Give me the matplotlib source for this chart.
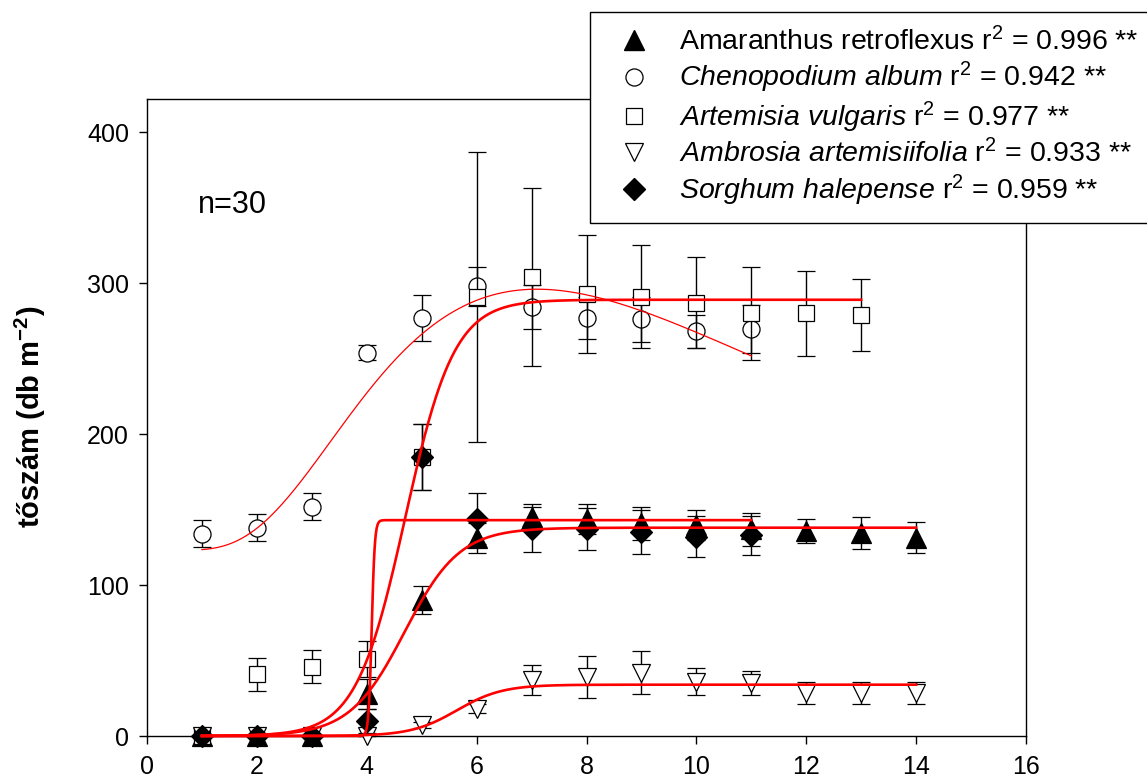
import numpy as np
import matplotlib
matplotlib.use("Agg")
import matplotlib.pyplot as plt
from matplotlib.lines import Line2D

plt.rcParams['font.family'] = ['Liberation Sans', 'DejaVu Sans']
plt.rcParams['mathtext.fontset'] = 'custom'
plt.rcParams['mathtext.rm'] = 'Liberation Sans'
plt.rcParams['mathtext.it'] = 'Liberation Sans:italic'
plt.rcParams['mathtext.bf'] = 'Liberation Sans:bold'

# ---------------- data ----------------
amaranthus_x = [1, 2, 3, 4, 5, 6, 7, 8, 9, 10, 11, 12, 13, 14]
amaranthus_y = [0, 0, 0, 28, 90, 131, 145, 144, 141, 140, 137, 136, 134.5, 131.5]
amaranthus_err = [0, 0, 0, 10, 9.5, 10, 9, 10, 11, 10, 11, 8, 10.5, 10.5]

chenopodium_x = [1, 2, 3, 4, 5, 6, 7, 8, 9, 10, 11]
chenopodium_y = [134, 138, 152, 254, 277, 298, 284, 277, 276, 268, 269.5]
chenopodium_err = [9, 9, 9, 5, 15, 13, 14.5, 14, 15, 11, 16]

artemisia_x = [1, 2, 3, 4, 5, 6, 7, 8, 9, 10, 11, 12, 13]
artemisia_y = [0, 41, 46, 51, 185, 291, 304, 293, 291, 287, 280, 280, 279]
artemisia_err = [0, 11, 11, 12, 22, 96, 59, 39, 34, 30, 31, 28, 24]

ambrosia_x = [1, 2, 3, 4, 5, 6, 7, 8, 9, 10, 11, 12, 13, 14]
ambrosia_y = [0, 0, 0, 0, 7, 18, 37, 39, 42, 36, 35, 28.5, 28.5, 28.5]
ambrosia_err = [0, 0, 0, 0, 2, 3, 10, 14, 14, 9, 8, 7.5, 7.5, 7.5]

sorghum_x = [1, 2, 3, 4, 5, 6, 7, 8, 9, 10, 11]
sorghum_y = [0, 0, 0, 10, 185, 144, 137, 137, 135, 132, 133]
sorghum_err = [0, 0, 0, 8, 22, 17, 15, 14, 14.5, 13.5, 13]

# fitted model parameters (sigmoid: a/(1+exp(-(x-x0)/b)); log-normal peak for Chenopodium)
amaranthus_fit = dict(a=138, x0=4.69, b=0.50, xmax=14)
artemisia_fit = dict(a=289, x0=4.70, b=0.448, xmax=13)
ambrosia_fit = dict(a=34, x0=5.64, b=0.414, xmax=14)
sorghum_fit = dict(a=143, x0=4.09, b=0.028, xmax=11)
chenopodium_fit = dict(y0=123, a=173, x0=7.1, b=0.57, xmax=11)

legend_labels = [
    r"Amaranthus retroflexus r$^{\mathrm{2}}$ = 0.996 **",
    r"$\mathit{Chenopodium\ album}$ r$^{\mathrm{2}}$ = 0.942 **",
    r"$\mathit{Artemisia\ vulgaris}$ r$^{\mathrm{2}}$ = 0.977 **",
    r"$\mathit{Ambrosia\ artemisiifolia}$ r$^{\mathrm{2}}$ = 0.933 **",
    r"$\mathit{Sorghum\ halepense}$ r$^{\mathrm{2}}$ = 0.959 **",
]

x_ticks = [0, 2, 4, 6, 8, 10, 12, 14, 16]
y_ticks = [0, 100, 200, 300, 400]

# ---------------- figure ----------------
W, H = 1147, 780
fig = plt.figure(figsize=(W / 100, H / 100), dpi=100)
ax = fig.add_axes([147 / W, 44 / H, 879 / W, 637 / H])


def sigmoid(x, a, x0, b):
    return a / (1 + np.exp(-(x - x0) / b))


def lognorm_peak(x, y0, a, x0, b):
    return y0 + a * np.exp(-0.5 * (np.log(x / x0) / b) ** 2)


ekw = dict(ecolor='black', elinewidth=1.0, capsize=6.5, capthick=1.0,
           linestyle='none', markeredgecolor='black', markeredgewidth=0.9,
           clip_on=False)

series = [
    (amaranthus_x, amaranthus_y, amaranthus_err, '^', 'black', 14.5),
    (chenopodium_x, chenopodium_y, chenopodium_err, 'o', 'white', 12.3),
    (artemisia_x, artemisia_y, artemisia_err, 's', 'white', 11.5),
    (ambrosia_x, ambrosia_y, ambrosia_err, 'v', 'white', 13.5),
    (sorghum_x, sorghum_y, sorghum_err, 'D', 'black', 11.2),
]
for i, (xs, ys, es, m, fc, ms) in enumerate(series):
    ax.errorbar(xs, ys, yerr=es, marker=m, markersize=ms,
                markerfacecolor=fc, zorder=3 + i * 0.1, **ekw)

red = '#ff0000'
for fit in (amaranthus_fit, artemisia_fit, ambrosia_fit, sorghum_fit):
    xx = np.linspace(1, fit['xmax'], 1500)
    ax.plot(xx, sigmoid(xx, fit['a'], fit['x0'], fit['b']), color=red,
            lw=1.9, zorder=5, clip_on=False)
xx = np.linspace(1, chenopodium_fit['xmax'], 800)
ax.plot(xx, lognorm_peak(xx, chenopodium_fit['y0'], chenopodium_fit['a'],
                         chenopodium_fit['x0'], chenopodium_fit['b']),
        color=red, lw=0.9, zorder=5)

ax.set_xlim(0, 16)
ax.set_ylim(0, 422)
ax.set_xticks(x_ticks)
ax.set_yticks(y_ticks)
ax.tick_params(axis='both', direction='out', length=6, width=1.0,
               labelsize=18, color='black')
ax.tick_params(axis='x', pad=8)
ax.tick_params(axis='y', pad=7)
for sp in ax.spines.values():
    sp.set_linewidth(1.0)
    sp.set_color('black')

ax.text(0.93, 352, "n=30", fontsize=22, ha='left', va='center')

fig.text(30 / W, 1 - 417 / H, r"tőszám (db m$^{\mathbf{-2}}$)",
         rotation=90, ha='center', va='center', fontsize=21,
         fontweight='bold')

handles = [
    Line2D([], [], linestyle='none', marker='^', markersize=14.5,
           markerfacecolor='black', markeredgecolor='black'),
    Line2D([], [], linestyle='none', marker='o', markersize=12.3,
           markerfacecolor='white', markeredgecolor='black', markeredgewidth=0.9),
    Line2D([], [], linestyle='none', marker='s', markersize=11.5,
           markerfacecolor='white', markeredgecolor='black', markeredgewidth=0.9),
    Line2D([], [], linestyle='none', marker='v', markersize=13.5,
           markerfacecolor='white', markeredgecolor='black', markeredgewidth=0.9),
    Line2D([], [], linestyle='none', marker='D', markersize=11.2,
           markerfacecolor='black', markeredgecolor='black'),
]
leg = fig.legend(handles, legend_labels, loc='upper left',
                 bbox_to_anchor=(590 / W, 1 - 12 / H),
                 bbox_transform=fig.transFigure, frameon=True, fancybox=False,
                 edgecolor='black', framealpha=1, borderaxespad=0,
                 borderpad=0.52, handlelength=2.05, handletextpad=0.55,
                 labelspacing=0.15, fontsize=20.5)
leg.get_frame().set_linewidth(1.0)
leg.set_zorder(10)

fig.savefig("out.png", dpi=100)
